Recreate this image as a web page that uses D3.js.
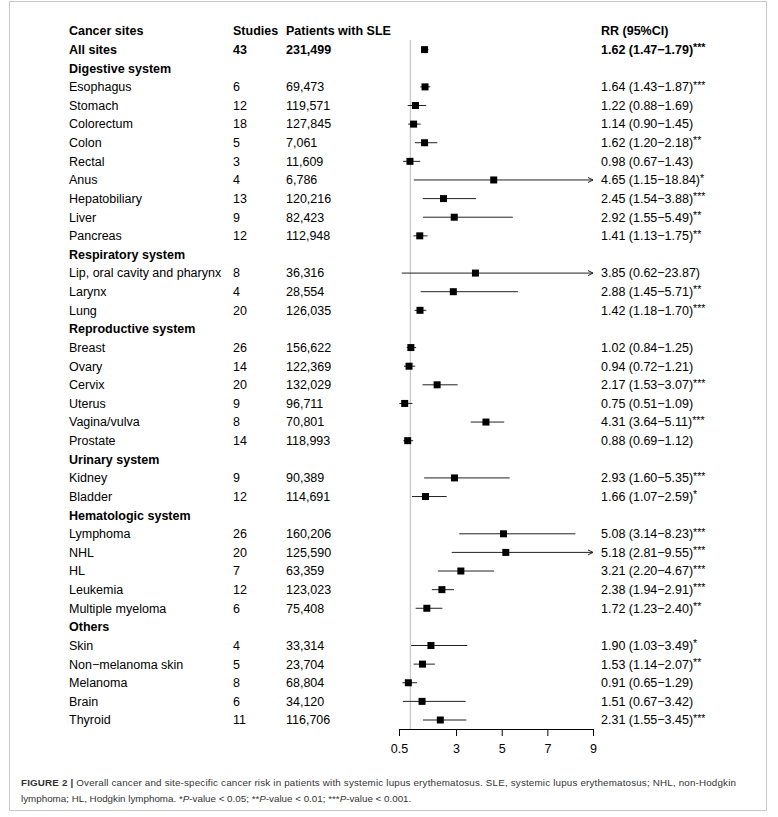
<!DOCTYPE html>
<html>
<head>
<meta charset="utf-8">
<script src="https://cdnjs.cloudflare.com/ajax/libs/d3/7.8.5/d3.min.js"></script>
<style>
  body { margin: 0; background: #fff; }
  text { font-family: "Liberation Sans", Arial, sans-serif; fill: #000; }
</style>
</head>
<body>
<svg id="Forest" width="778" height="817"></svg>
<script>
// rows of the table, group headers have no numbers
var sites = ["All sites", "Digestive system", "Esophagus", "Stomach", "Colorectum", "Colon", "Rectal", "Anus",
    "Hepatobiliary", "Liver", "Pancreas", "Respiratory system", "Lip, oral cavity and pharynx", "Larynx", "Lung",
    "Reproductive system", "Breast", "Ovary", "Cervix", "Uterus", "Vagina/vulva", "Prostate",
    "Urinary system", "Kidney", "Bladder", "Hematologic system", "Lymphoma", "NHL", "HL", "Leukemia",
    "Multiple myeloma", "Others", "Skin", "Non\u2212melanoma skin", "Melanoma", "Brain", "Thyroid"];
var groupRows = ["Digestive system", "Respiratory system", "Reproductive system", "Urinary system",
    "Hematologic system", "Others"];
var studies = [43, null, 6, 12, 18, 5, 3, 4, 13, 9, 12, null, 8, 4, 20, null, 26, 14, 20, 9, 8, 14,
    null, 9, 12, null, 26, 20, 7, 12, 6, null, 4, 5, 8, 6, 11];
var patients = ["231,499", null, "69,473", "119,571", "127,845", "7,061", "11,609", "6,786", "120,216",
    "82,423", "112,948", null, "36,316", "28,554", "126,035", null, "156,622", "122,369", "132,029",
    "96,711", "70,801", "118,993", null, "90,389", "114,691", null, "160,206", "125,590", "63,359",
    "123,023", "75,408", null, "33,314", "23,704", "68,804", "34,120", "116,706"];
var rr = [1.62, null, 1.64, 1.22, 1.14, 1.62, 0.98, 4.65, 2.45, 2.92, 1.41, null, 3.85, 2.88, 1.42,
    null, 1.02, 0.94, 2.17, 0.75, 4.31, 0.88, null, 2.93, 1.66, null, 5.08, 5.18, 3.21, 2.38, 1.72,
    null, 1.90, 1.53, 0.91, 1.51, 2.31];
var lower = [1.47, null, 1.43, 0.88, 0.90, 1.20, 0.67, 1.15, 1.54, 1.55, 1.13, null, 0.62, 1.45, 1.18,
    null, 0.84, 0.72, 1.53, 0.51, 3.64, 0.69, null, 1.60, 1.07, null, 3.14, 2.81, 2.20, 1.94, 1.23,
    null, 1.03, 1.14, 0.65, 0.67, 1.55];
var upper = [1.79, null, 1.87, 1.69, 1.45, 2.18, 1.43, 18.84, 3.88, 5.49, 1.75, null, 23.87, 5.71, 1.70,
    null, 1.25, 1.21, 3.07, 1.09, 5.11, 1.12, null, 5.35, 2.59, null, 8.23, 9.55, 4.67, 2.91, 2.40,
    null, 3.49, 2.07, 1.29, 3.42, 3.45];
var stars = ["***", null, "***", "", "", "**", "", "*", "***", "**", "**", null, "", "**", "***",
    null, "", "", "***", "", "***", "", null, "***", "*", null, "***", "***", "***", "***", "**",
    null, "*", "**", "", "", "***"];
var xTicks = [0.5, 3, 5, 7, 9];

var rows = sites.map(function(s, i) {
    return {site: s, studies: studies[i], patients: patients[i], rr: rr[i], lo: lower[i], hi: upper[i],
            stars: stars[i], group: groupRows.indexOf(s) >= 0, bold: i === 0};
});

var svg = d3.select("#Forest");
var fs = 12.5;

// frame round the figure
svg.append("rect")
    .attr("x", 9.5).attr("y", 1.5)
    .attr("width", 757).attr("height", 809)
    .attr("fill", "none")
    .attr("stroke", "#c8c8c8")
    .attr("stroke-width", 1);

var x = d3.scaleLinear().domain([0.5, 9]).range([399, 593]);
var y = d3.scalePoint().domain(["__head"].concat(sites)).range([31, 720]);

var colSite = 69, colStudies = 233, colPatients = 286, colRR = 601;

// header
var head = svg.append("g").attr("font-weight", "bold").attr("font-size", fs);
[["Cancer sites", colSite], ["Studies", colStudies], ["Patients with SLE", colPatients], ["RR (95%CI)", colRR]]
    .forEach(function(h) {
        head.append("text").attr("x", h[1]).attr("y", y("__head")).attr("dy", "0.35em").text(h[0]);
    });

// reference line at RR = 1
svg.append("line")
    .attr("x1", x(1)).attr("x2", x(1))
    .attr("y1", 40).attr("y2", 729)
    .attr("stroke", "#c8c8c8")
    .attr("stroke-width", 1.3);

// table text
var tbl = svg.append("g").attr("font-size", fs);
var rowG = tbl.selectAll("g.row")
    .data(rows)
    .enter()
    .append("g")
    .attr("class", "row")
    .attr("font-weight", function(d) { return (d.group || d.bold) ? "bold" : "normal"; })
    .attr("transform", function(d) { return "translate(0," + y(d.site) + ")"; });

rowG.append("text").attr("x", colSite).attr("dy", "0.35em").text(function(d) { return d.site; });
rowG.filter(function(d) { return !d.group; })
    .append("text").attr("x", colStudies).attr("dy", "0.35em").text(function(d) { return d.studies; });
rowG.filter(function(d) { return !d.group; })
    .append("text").attr("x", colPatients).attr("dy", "0.35em").text(function(d) { return d.patients; });
var rrText = rowG.filter(function(d) { return !d.group; })
    .append("text").attr("x", colRR).attr("dy", "0.35em");
rrText.append("tspan").text(function(d) {
    return d.rr.toFixed(2) + " (" + d.lo.toFixed(2) + "\u2212" + d.hi.toFixed(2) + ")";
});
rrText.append("tspan")
    .attr("font-size", fs * 0.85)
    .attr("dy", "-0.25em")
    .text(function(d) { return d.stars; });

// confidence intervals
var est = svg.append("g");
var pts = est.selectAll("g.pt")
    .data(rows.filter(function(d) { return !d.group; }))
    .enter()
    .append("g")
    .attr("class", "pt")
    .attr("transform", function(d) { return "translate(0," + y(d.site) + ")"; });

pts.append("line")
    .attr("x1", function(d) { return x(Math.max(d.lo, 0.5)); })
    .attr("x2", function(d) { return x(Math.min(d.hi, 9)); })
    .attr("y1", 0).attr("y2", 0)
    .attr("stroke", "#222")
    .attr("stroke-width", 1);

// open arrow where the upper limit runs off the axis
pts.filter(function(d) { return d.hi > 9; })
    .append("path")
    .attr("d", function() {
        var xe = x(9);
        return "M" + (xe - 5) + ",-2.5L" + xe + ",0L" + (xe - 5) + ",2.5";
    })
    .attr("fill", "none")
    .attr("stroke", "#222")
    .attr("stroke-width", 1);

pts.append("rect")
    .attr("x", function(d) { return x(d.rr) - 3.5; })
    .attr("y", -3.5)
    .attr("width", 7).attr("height", 7)
    .attr("fill", "#000");

// x axis
var axis = svg.append("g")
    .attr("transform", "translate(0,729)")
    .call(d3.axisBottom(x).tickValues(xTicks).tickSize(7).tickPadding(8).tickFormat(d3.format("")));
axis.select(".domain").attr("stroke", "#000");
axis.selectAll(".tick line").attr("stroke", "#000");
axis.selectAll(".tick text")
    .attr("font-size", fs)
    .attr("font-family", "Liberation Sans, Arial, sans-serif")
    .attr("fill", "#000");

// caption
var cap = svg.append("g").attr("font-size", 9.8).attr("fill", "#333");
var c1 = cap.append("text").attr("x", 21).attr("y", 786)
    .attr("textLength", 715).attr("lengthAdjust", "spacing")
    .style("fill", "#333");
c1.append("tspan").attr("font-weight", "bold").text("FIGURE 2 | ");
c1.append("tspan").text("Overall cancer and site-specific cancer risk in patients with systemic lupus erythematosus. SLE, systemic lupus erythematosus; NHL, non-Hodgkin");
var c2 = cap.append("text").attr("x", 21).attr("y", 802).style("fill", "#333");
c2.append("tspan").text("lymphoma; HL, Hodgkin lymphoma. *");
c2.append("tspan").attr("font-style", "italic").text("P");
c2.append("tspan").text("-value < 0.05; **");
c2.append("tspan").attr("font-style", "italic").text("P");
c2.append("tspan").text("-value < 0.01; ***");
c2.append("tspan").attr("font-style", "italic").text("P");
c2.append("tspan").text("-value < 0.001.");
</script>
</body>
</html>
